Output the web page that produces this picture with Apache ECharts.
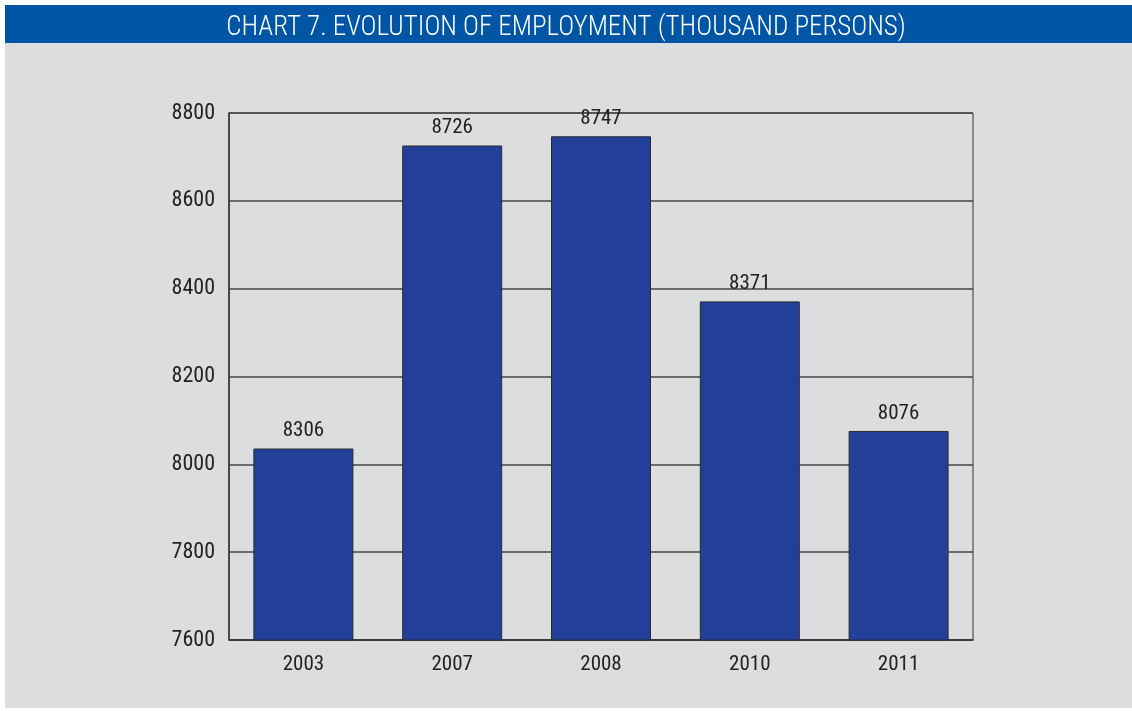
<!DOCTYPE html>
<html>
<head>
<meta charset="utf-8">
<script src="https://cdn.jsdelivr.net/npm/echarts@6/dist/echarts.min.js"></script>
<style>
  html, body { margin: 0; padding: 0; background: #fff; }
  #chart { width: 1132px; height: 711px; }
</style>
</head>
<body>
<div id="chart"></div>
<script>
var years = ['2003', '2007', '2008', '2010', '2011'];
// bar heights as drawn in the source; the printed labels are kept as they appear
var employment = [8036, 8726, 8747, 8371, 8076];
var valueLabels = ['8306', '8726', '8747', '8371', '8076'];

var font = '"Liberation Sans Narrow", "Roboto Condensed", "DejaVu Sans Condensed", sans-serif';

var chart = echarts.init(document.getElementById('chart'));
chart.setOption({
    backgroundColor: '#fff',
    animation: false,
    graphic: [
        {type: 'rect', left: 5, top: 5, z: -10, shape: {width: 1127, height: 38}, style: {fill: '#0055a5'}},
        {type: 'rect', left: 5, top: 43, z: -10, shape: {width: 1127, height: 665}, style: {fill: '#dcdddf'}}
    ],
    title: {
        text: 'CHART 7. EVOLUTION OF EMPLOYMENT (THOUSAND PERSONS)',
        left: 'center',
        top: 10,
        textStyle: {
            color: '#fff',
            fontFamily: font,
            fontSize: 27,
            fontWeight: 300
        }
    },
    grid: {
        left: 229,
        right: 159,
        top: 113,
        bottom: 71,
        show: true,
        backgroundColor: 'transparent',
        borderColor: '#333',
        borderWidth: 1
    },
    xAxis: {
        type: 'category',
        data: years,
        axisTick: {show: false},
        axisLine: {lineStyle: {color: '#333', width: 1.5}},
        axisLabel: {color: '#222', fontFamily: font, fontSize: 21, margin: 14}
    },
    yAxis: {
        type: 'value',
        min: 7600,
        max: 8800,
        interval: 200,
        axisLine: {show: true, lineStyle: {color: '#333', width: 1.5}},
        axisTick: {show: false},
        splitLine: {lineStyle: {color: '#444', width: 1.5}},
        axisLabel: {
            color: '#222', fontFamily: font, fontSize: 22, margin: 14,
            formatter: function(v) { return String(v); }
        }
    },
    series: [{
        type: 'bar',
        data: employment,
        barWidth: 100,
        itemStyle: {color: '#22409a', borderColor: '#2a2a2a', borderWidth: 1},
        label: {
            show: true,
            position: 'top',
            distance: 7,
            color: '#222',
            fontFamily: font,
            fontSize: 21,
            formatter: function(p) { return valueLabels[p.dataIndex]; }
        }
    }]
});
</script>
</body>
</html>
